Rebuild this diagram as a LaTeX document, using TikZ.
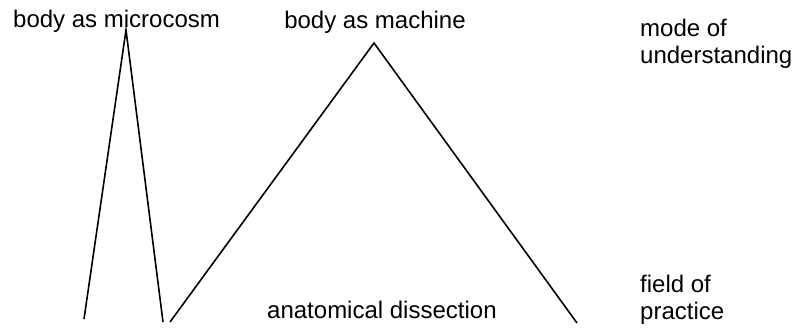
\documentclass[tikz,border=0pt]{standalone}
\usepackage{fontspec}
\setmainfont{Liberation Sans}
\usetikzlibrary{positioning}

\begin{document}
\begin{tikzpicture}[x=1pt, y=-1pt,
  every node/.style={font=\fontsize{24}{27}\selectfont, inner sep=0pt},
  title/.style={anchor=base west},
  side/.style={anchor=north west, align=left},
  edge/.style={line width=1.6pt}
]
\useasboundingbox (0,0) rectangle (797,327);

% labels
\node[title] (micro) at (13,27) {body as microcosm};
\node[anchor=base] (machine) at (375,28) {body as machine};
\node[title] (dissect) at (267,318) {anatomical dissection};
\node[side] (mode) at (640,19) {mode of\\understanding};
\node[side] (field) at (640,275) {field of\\practice};

% the two peaks
\coordinate (microtop) at (126,30);
\coordinate (microleft) at (84,319);
\coordinate (microright) at (163,322);
\coordinate (machtop) at (374,43);
\coordinate (machleft) at (170,322);
\coordinate (machright) at (577,323);

\draw[edge] (microleft) -- (microtop) -- (microright);
\draw[edge] (machleft) -- (machtop) -- (machright);
\end{tikzpicture}
\end{document}
